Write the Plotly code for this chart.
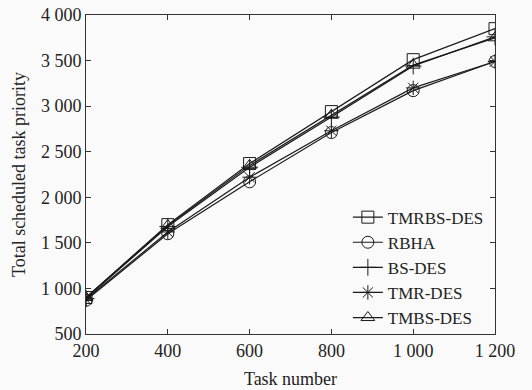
import plotly.graph_objects as go

task_number = [200, 400, 600, 800, 1000, 1200]
tmrbs_des = [900, 1700, 2370, 2940, 3510, 3850]
rbha = [870, 1600, 2170, 2710, 3170, 3490]
bs_des = [890, 1680, 2330, 2880, 3440, 3760]
tmr_des = [880, 1620, 2220, 2730, 3200, 3490]
tmbs_des = [900, 1690, 2350, 2900, 3450, 3750]

series = [
    ("TMRBS-DES", tmrbs_des, "square-open"),
    ("RBHA", rbha, "circle-open"),
    ("BS-DES", bs_des, "cross-thin-open"),
    ("TMR-DES", tmr_des, "asterisk-open"),
    ("TMBS-DES", tmbs_des, "triangle-up-open"),
]

y_ticks = [500, 1000, 1500, 2000, 2500, 3000, 3500, 4000]
y_ticktext = ["500", "1 000", "1 500", "2 000", "2 500", "3 000", "3 500", "4 000"]
x_ticks = [200, 400, 600, 800, 1000, 1200]
x_ticktext = ["200", "400", "600", "800", "1 000", "1 200"]

font = "Liberation Serif, Times New Roman, serif"
fig = go.Figure()
for name, vals, sym in series:
    fig.add_trace(go.Scatter(
        x=task_number, y=vals, name=name, mode="lines+markers",
        line=dict(color="#1a1a1a", width=1.2),
        marker=dict(symbol=sym, size=12, color="#1a1a1a", line=dict(width=1, color="#1a1a1a")),
    ))

axis_common = dict(
    showgrid=False, zeroline=False, showline=True, linecolor="#333333", linewidth=1,
    mirror="ticks", ticks="inside", ticklen=5, tickcolor="#333333",
    tickfont=dict(family=font, size=18, color="#222222"),
)
fig.update_xaxes(range=[200, 1200], tickvals=x_ticks, ticktext=x_ticktext,
                 title=dict(text="Task number", font=dict(family=font, size=18, color="#222222"), standoff=12),
                 **axis_common)
fig.update_yaxes(range=[500, 4000], tickvals=y_ticks, ticktext=y_ticktext,
                 title=dict(text="Total scheduled task priority", font=dict(family=font, size=18, color="#222222"), standoff=10),
                 **axis_common)
fig.update_layout(
    width=532, height=390,
    margin=dict(l=86, r=37, t=15, b=56, autoexpand=False),
    paper_bgcolor="#fafafa", plot_bgcolor="#fafafa",
    legend=dict(x=0.985, xanchor="right", y=-0.005, yanchor="bottom",
                bgcolor="rgba(0,0,0,0)", font=dict(family=font, size=17, color="#222222"),
                itemwidth=30, tracegroupgap=0),
    showlegend=True,
)
fig.write_html("out.html")
